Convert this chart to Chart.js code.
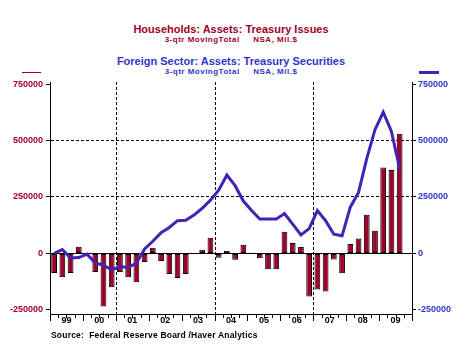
<!DOCTYPE html>
<html>
<head>
<meta charset="utf-8">
<script src="https://cdn.jsdelivr.net/npm/chart.js@4"></script>
<style>
  body { margin: 0; background: #fff; }
  #wrap { position: relative; width: 462px; height: 347px; font-family: "Liberation Sans", Arial, sans-serif; font-weight: bold; }
  #wrap canvas { position: absolute; left: 0; top: 0; }
  .t { position: absolute; left: 0; width: 462px; text-align: center; white-space: pre; }
  .red { color: #a0002a; }
  .blue { color: #3333cc; }
  .big { font-size: 11px; line-height: 11px; letter-spacing: 0px; }
  .small { font-size: 8px; line-height: 8px; letter-spacing: 0.5px; }
  .key { position: absolute; }
  #src { position: absolute; left: 51px; top: 330px; font-size: 8.5px; line-height: 10px; letter-spacing: 0.2px; color: #000; white-space: pre; }
</style>
</head>
<body>
<div id="wrap">
  <div class="t red big" style="top:24px">Households: Assets: Treasury Issues</div>
  <div class="t red small" style="top:36px">3-qtr MovingTotal     NSA, Mil.$</div>
  <div class="t blue big" style="top:56px">Foreign Sector: Assets: Treasury Securities</div>
  <div class="t blue small" style="top:68px">3-qtr MovingTotal     NSA, Mil.$</div>
  <div class="key" style="left:22px; top:72px; width:19px; height:1px; background:#a0002a"></div>
  <div class="key" style="left:419px; top:71px; width:20px; height:3px; background:#4422b4"></div>
  <canvas id="chart" width="462" height="347"></canvas>
  <div id="src">Source:  Federal Reserve Board /Haver Analytics</div>
</div>
<script>
// quarters 1999Q1 .. 2009Q4
const quarters = [
  '99Q1','99Q2','99Q3','99Q4','00Q1','00Q2','00Q3','00Q4',
  '01Q1','01Q2','01Q3','01Q4','02Q1','02Q2','02Q3','02Q4',
  '03Q1','03Q2','03Q3','03Q4','04Q1','04Q2','04Q3','04Q4',
  '05Q1','05Q2','05Q3','05Q4','06Q1','06Q2','06Q3','06Q4',
  '07Q1','07Q2','07Q3','07Q4','08Q1','08Q2','08Q3','08Q4',
  '09Q1','09Q2','09Q3','09Q4'
];
const yearLabels = ['99','00','01','02','03','04','05','06','07','08','09'];
const dividerQuarters = ['01Q1','04Q1','07Q1'];
const yTicks = [-250000, 0, 250000, 500000, 750000];
const dashedLevels = [250000, 500000];

// Households: Assets: Treasury Issues, 3-qtr moving total (bars, left axis)
const households = [
  -87000, -105000, -87000, 30000, -3000, -82000, -235000, -150000,
  -82000, -105000, -128000, -38000, 25000, -33000, -91000, -109000,
  -91000, 0, 16000, 70000, -19000, 12000, -28000, 39000,
  3000, -21000, -70000, -70000, 96000, 46000, 29000, -190000,
  -159000, -168000, -27000, -88000, 42000, 66000, 171000, 100000,
  381000, 369000, 530000, null
];
// Foreign Sector: Assets: Treasury Securities, 3-qtr moving total (line, right axis)
const foreign = [
  0, 17000, -20000, -18000, -3000, -42000, -52000, -73000,
  -58000, -62000, -43000, 20000, 54000, 92000, 115000, 145000,
  147000, 170000, 200000, 236000, 280000, 347000, 300000, 232000,
  190000, 152000, 152000, 152000, 177000, 130000, 82000, 110000,
  190000, 145000, 85000, 78000, 205000, 270000, 420000, 548000,
  625000, 540000, 375000, null
];

const tickFont = { family: 'Liberation Sans', size: 9, weight: 'bold' };

const frame = {
  id: 'frame',
  beforeDatasetsDraw(chart) {
    const { ctx, chartArea: a, scales: { x, y } } = chart;
    const step = x.getPixelForValue(1) - x.getPixelForValue(0);
    ctx.save();
    ctx.strokeStyle = '#000';
    ctx.lineWidth = 1;
    ctx.setLineDash([3, 2]);
    dividerQuarters.forEach(q => {
      const px = Math.round(x.getPixelForValue(quarters.indexOf(q)) - step / 2) + 0.5;
      ctx.beginPath(); ctx.moveTo(px, a.top); ctx.lineTo(px, a.bottom); ctx.stroke();
    });
    ctx.setLineDash([]);
    const y0 = Math.round(y.getPixelForValue(0)) + 0.5;
    ctx.beginPath(); ctx.moveTo(a.left, y0); ctx.lineTo(a.right, y0); ctx.stroke();
    ctx.restore();
  },
  afterDraw(chart) {
    const { ctx, chartArea: a, scales: { x } } = chart;
    const step = x.getPixelForValue(1) - x.getPixelForValue(0);
    ctx.save();
    ctx.strokeStyle = '#000';
    ctx.lineWidth = 1;
    for (let i = 0; i <= quarters.length; i++) {
      const px = Math.round(x.getPixelForValue(i) - step / 2) + 0.5;
      const len = i % 4 === 0 ? 7 : 4;
      ctx.beginPath(); ctx.moveTo(px, a.bottom); ctx.lineTo(px, a.bottom + len); ctx.stroke();
    }
    ctx.fillStyle = '#000';
    ctx.font = 'bold 9px "Liberation Sans"';
    ctx.textAlign = 'center';
    ctx.textBaseline = 'middle';
    yearLabels.forEach(yr => {
      const px = x.getPixelForValue(quarters.indexOf(yr + 'Q2')) + step / 2;
      ctx.fillText(yr, px, a.bottom + 7);
    });
    ctx.restore();
  }
};

const fixWidth = s => { s.width = 50; };
const setTicks = s => { s.ticks = yTicks.map(v => ({ value: v })); };

new Chart(document.getElementById('chart'), {
  data: {
    labels: quarters,
    datasets: [
      {
        type: 'line',
        label: 'Foreign Sector: Assets: Treasury Securities',
        data: foreign,
        yAxisID: 'y2',
        borderColor: '#4422b4',
        borderWidth: 3,
        pointRadius: 0,
        tension: 0,
        order: 0
      },
      {
        type: 'bar',
        label: 'Households: Assets: Treasury Issues',
        data: households,
        yAxisID: 'y',
        backgroundColor: '#a0002a',
        borderColor: '#000',
        borderWidth: 1,
        borderSkipped: false,
        categoryPercentage: 1,
        barPercentage: 0.7,
        order: 1
      }
    ]
  },
  options: {
    responsive: false,
    animation: false,
    devicePixelRatio: 1,
    layout: { padding: { top: 82, left: 0, right: 0, bottom: 0 } },
    plugins: { legend: { display: false }, tooltip: { enabled: false } },
    scales: {
      x: {
        type: 'category',
        offset: true,
        grid: { display: false },
        ticks: { display: false },
        border: { display: true, color: '#000', width: 1 },
        afterFit: s => { s.height = 33; }
      },
      y: {
        position: 'left',
        min: -268000,
        max: 759000,
        afterBuildTicks: setTicks,
        afterFit: fixWidth,
        ticks: { color: '#a0002a', font: tickFont, padding: 3, callback: v => String(v) },
        grid: {
          color: c => dashedLevels.includes(c.tick && c.tick.value) ? '#000' : 'rgba(0,0,0,0)',
          tickColor: '#000',
          tickLength: 4
        },
        border: { display: true, color: '#000', width: 1, dash: [3, 2] }
      },
      y2: {
        position: 'right',
        min: -268000,
        max: 759000,
        afterBuildTicks: setTicks,
        afterFit: fixWidth,
        ticks: { color: '#3333cc', font: tickFont, padding: 2, callback: v => String(v) },
        grid: { drawOnChartArea: false, tickColor: '#000', tickLength: 4 },
        border: { display: true, color: '#000', width: 1 }
      }
    }
  },
  plugins: [frame]
});
</script>
</body>
</html>
